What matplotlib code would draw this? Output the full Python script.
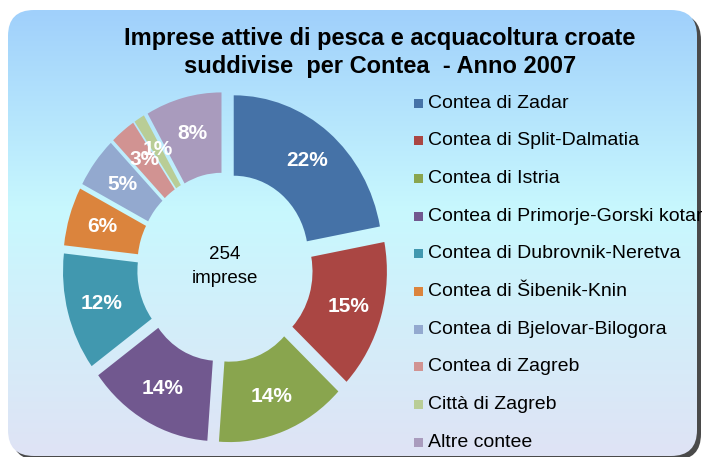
import matplotlib.pyplot as plt
import numpy as np
from matplotlib.patches import FancyBboxPatch, Rectangle
from matplotlib.colors import LinearSegmentedColormap

# dati
contee = ['Contea di Zadar', 'Contea di Split-Dalmatia', 'Contea di Istria',
          'Contea di Primorje-Gorski kotar', 'Contea di Dubrovnik-Neretva',
          'Contea di Šibenik-Knin', 'Contea di Bjelovar-Bilogora',
          'Contea di Zagreb', 'Città di Zagreb', 'Altre contee']
imprese = [56, 38, 36, 35, 30, 15, 13, 7, 3, 21]
colori = ['#4572A7', '#AA4643', '#89A54E', '#71588F', '#4198AF',
          '#DB843D', '#93A9CF', '#D19392', '#B9CD96', '#A99BBD']
totale = 254

W, H = 702, 457
fig = plt.figure(figsize=(W / 100, H / 100), dpi=100)
fig.patch.set_facecolor('white')

# sfondo con gradiente e bordo arrotondato
bg = fig.add_axes([0, 0, 1, 1])
bg.set_xlim(0, W)
bg.set_ylim(H, 0)
bg.axis('off')
ombra = FancyBboxPatch((12, 14), 689, 446, boxstyle='round,pad=0,rounding_size=26',
                       facecolor='#4a4a4a', edgecolor='none', zorder=0)
bg.add_patch(ombra)
box = FancyBboxPatch((8, 10), 689, 446, boxstyle='round,pad=0,rounding_size=26',
                     facecolor='none', edgecolor='none', zorder=1)
bg.add_patch(box)
cmap = LinearSegmentedColormap.from_list('sf', [(0, '#a0d0fb'), (0.45, '#c8f8fe'), (1, '#dfe3f5')])
grad = np.linspace(0, 1, 256).reshape(-1, 1)
img = bg.imshow(grad, cmap=cmap, extent=[8, 697, 456, 10], aspect='auto', zorder=2)
img.set_clip_path(box)
bg.set_xlim(0, W)
bg.set_ylim(H, 0)

# titolo
font_titolo = ['Liberation Sans Narrow', 'Liberation Sans', 'DejaVu Sans']
fig.text(380 / W, 1 - 38 / H, 'Imprese attive di pesca e acquacoltura croate',
         ha='center', va='center', fontsize=17, fontweight='bold', family=font_titolo)
fig.text(380 / W, 1 - 66 / H, 'suddivise  per Contea  - Anno 2007',
         ha='center', va='center', fontsize=17, fontweight='bold', family=font_titolo)

# ciambella
ax = fig.add_axes([58 / W, 1 - 448 / H, 334 / W, 361 / H])
wedges, testi, pct = ax.pie(imprese, colors=colori, startangle=90, counterclock=False,
                            explode=[0.09] * len(imprese), radius=0.98,
                            wedgeprops=dict(width=0.49, edgecolor='none'),
                            autopct='%1.0f%%', pctdistance=0.77)
ax.set_xlim(-1.1, 1.1)
ax.set_ylim(-1.1, 1.1)
ax.set_aspect('auto')
ax.axis('off')
for t in pct:
    t.set_color('white')
    t.set_fontsize(15)
    t.set_fontweight('bold')
    t.set_family(['Liberation Sans', 'DejaVu Sans'])
ax.text(0, 0.08, str(totale), ha='center', va='center', fontsize=13.5, family=['Liberation Sans', 'DejaVu Sans'])
ax.text(0, -0.07, 'imprese', ha='center', va='center', fontsize=13.5, family=['Liberation Sans', 'DejaVu Sans'])

# legenda
for i, (nome, col) in enumerate(zip(contee, colori)):
    y = 103 + i * 37.7
    bg.add_patch(Rectangle((414, y - 4.5), 9, 9, facecolor=col, edgecolor='none', zorder=3))
    bg.text(428, y, nome, ha='left', va='center', fontsize=14,
            family=['Liberation Sans', 'DejaVu Sans'], clip_on=True, zorder=3)

fig.savefig('out.png', dpi=100)
